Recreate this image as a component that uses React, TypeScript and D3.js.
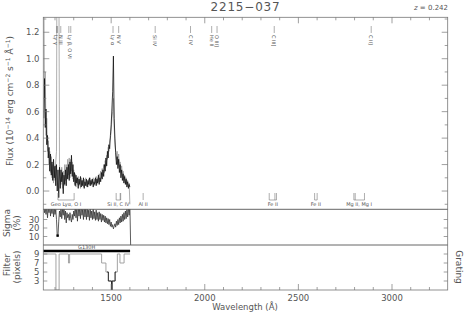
import React from 'react';
import * as d3 from 'd3';

// ---------- data ----------
const TITLE = '2215\u2212037';
const REDSHIFT = 0.242;
const WAVE_START = 1140;
const WAVE_STEP = 4;

const FLUX = [
  0.55, 0.85, 0.48, 0.62, 0.35, 0.42, 0.25, 0.33, 0.15, 0.28,
  0.12, 0.22, 0.08, 0.24, 0.1, 0.19, 0.04, 0.2, 0.0, 0.16,
  -0.05, 0.18, 0.02, 0.16, 0.07, 0.14, -0.02, 0.12, 0.05, 0.16,
  0.04, 0.18, 0.09, 0.2, 0.08, 0.22, 0.13, 0.27, 0.11, 0.2,
  0.07, 0.14, 0.04, 0.12, 0.06, 0.1, 0.02, 0.09, 0.05, 0.11,
  0.03, 0.08, 0.04, 0.1, 0.02, 0.07, 0.04, 0.09, 0.03, 0.08,
  0.05, 0.1, 0.04, 0.08, 0.05, 0.09, 0.03, 0.07, 0.05, 0.1,
  0.04, 0.09, 0.06, 0.12, 0.05, 0.1, 0.07, 0.14, 0.09, 0.16,
  0.11, 0.2, 0.15, 0.25, 0.19, 0.3, 0.25, 0.35, 0.32, 0.42,
  0.5, 0.62, 0.75, 1.02, 0.55, 0.4, 0.29, 0.2, 0.26, 0.17,
  0.24, 0.14, 0.2, 0.1, 0.16, 0.08, 0.13, 0.06, 0.11, 0.05,
  0.09, 0.03, 0.07, 0.02, 0.05, 0.03,
];

const FLUX_GRAY = [
  1.6, 0.7, 0.9, 0.42, 0.55, 0.3, 0.38, 0.2, 0.3, 0.14,
  0.26, 0.1, 0.2, 0.06, 0.18, 0.08, 0.22, 0.3, 3.0, 3.0,
  2.0, 0.2, 0.1, 0.05, 0.18, 0.02, 0.15, 0.04, 0.2, 0.08,
  0.2, 0.1, 0.24, 0.12, 0.25, 0.1, 0.24, 0.15, 0.22, 0.09,
  0.16, 0.05, 0.13, 0.03, 0.1, 0.05, 0.11, 0.04, 0.09, 0.02,
  0.1, 0.05, 0.08, 0.03, 0.09, 0.05, 0.1, 0.04, 0.07, 0.03,
  0.09, 0.05, 0.1, 0.04, 0.09, 0.06, 0.1, 0.04, 0.09, 0.06,
  0.11, 0.05, 0.1, 0.07, 0.13, 0.08, 0.15, 0.1, 0.17, 0.12,
  0.2, 0.14, 0.23, 0.18, 0.27, 0.24, 0.33, 0.3, 0.38, 0.4,
  0.45, 0.55, 0.6, 0.7, 0.48, 0.35, 0.3, 0.24, 0.3, 0.2,
  0.28, 0.18, 0.22, 0.14, 0.19, 0.11, 0.15, 0.08, 0.12, 0.06,
  0.1, 0.05, 0.08, 0.03, 0.06, -0.1,
];

const SIGMA = [
  45, 38, 44, 36, 46, 32, 44, 38, 48, 34,
  45, 37, 50, 33, 44, 36, 42, 30, 11, 11,
  28, 40, 33, 45, 31, 42, 35, 48, 30, 40,
  26, 38, 32, 36, 29, 38, 31, 27, 36, 30,
  40, 34, 46, 32, 42, 28, 46, 34, 44, 31,
  48, 35, 42, 30, 46, 33, 44, 30, 45, 33,
  41, 29, 43, 32, 40, 30, 44, 31, 39, 29,
  41, 30, 38, 28, 39, 30, 37, 27, 36, 29,
  35, 27, 34, 26, 32, 25, 31, 24, 30, 22,
  27, 21, 24, 19, 22, 25, 21, 28, 23, 30,
  24, 32, 26, 34, 27, 36, 28, 38, 30, 40,
  31, 42, 33, 44, 35, 46, 0,
];
const SIGMA_MARK_WAVE = 1214;
const SIGMA_MARK_VALUE = 11;

const FILTER_WAVE = [1140, 1205, 1222, 1272, 1278, 1449, 1472, 1485, 1502, 1505, 1521, 1533, 1547, 1569, 1601];
const FILTER_VAL = [9, 1, 9, 7, 9, 7, 5, 3, 1, 3, 5, 9, 7, 9, 9];
const FILTER_DARK_WAVE = [1478, 1485, 1502, 1505, 1521, 1527];
const FILTER_DARK_VAL = [5, 3, 1, 3, 5, 5];

const GRATING_NAME = 'G130H';
const GRATING_START = 1137;
const GRATING_END = 1601;

const EM_LABELS = ['Ly \u03b3', 'N III', 'Ly \u03b2, O VI', 'Ly \u03b1', 'N V', 'Si IV', 'C IV', 'He II', 'O III]', 'C III]', 'C II]'];
const EM_REST = [972.5, 991, 1030, 1215.7, 1240, 1397, 1549, 1640, 1663, 1909, 2326];
const EM_TICKS_REST = [972.5, 977, 991, 1025.7, 1034, 1215.7, 1240, 1397, 1549, 1640, 1663, 1909, 2326];

const ISM_LABELS = ['Geo Ly\u03b1, O I', 'Si II, C IV', 'Al II', 'Fe II', 'Fe II', 'Mg II, Mg I'];
const ISM_WAVES = [
  [1215.7, 1302.2],
  [1526.7, 1548.2, 1550.8],
  [1670.8],
  [2344.2, 2374.5, 2382.8],
  [2586.7, 2600.2],
  [2796.4, 2803.5, 2853.0],
];

const X_MAJOR = [1500, 2000, 2500, 3000];
const X_MINOR = [1200, 1300, 1400, 1600, 1700, 1800, 1900, 2100, 2200, 2300, 2400, 2600, 2700, 2800, 2900, 3100, 3200];
const FLUX_TICKS = [0.0, 0.2, 0.4, 0.6, 0.8, 1.0, 1.2];
const FLUX_MINOR = [-0.1, 0.1, 0.3, 0.5, 0.7, 0.9, 1.1, 1.3];
const SIGMA_TICKS = [10, 20, 30];
const FILTER_TICKS = [3, 5, 7, 9];

// ---------- layout ----------
const W = 468;
const H = 318;
const L = 43.3;
const R = 447.7;
const MAIN_TOP = 17.3;
const MAIN_BOT = 209.3;
const SIG_BOT = 245;
const FIL_BOT = 290;
const FONT = "'DejaVu Sans', 'Liberation Sans', sans-serif";
const TXT = '#555';
const AX = '#777';

export default function App() {
  const x = d3.scaleLinear().domain([1137.5, 3297.5]).range([L, R]);
  const yMain = d3.scaleLinear().domain([-0.138, 1.313]).range([MAIN_BOT, MAIN_TOP]);
  const ySig = d3.scaleLinear().domain([0, 42]).range([SIG_BOT, MAIN_BOT]);
  const yFil = d3.scaleLinear().domain([1, 11]).range([FIL_BOT, SIG_BOT]);

  const waveAt = (i: number) => WAVE_START + WAVE_STEP * i;
  const lineMain = d3.line<number>().x((_, i) => x(waveAt(i))).y((d) => yMain(d));
  const lineSig = d3.line<number>().x((_, i) => x(waveAt(i))).y((d) => ySig(d));
  const filterPts = FILTER_WAVE.map((w, i) => [w, FILTER_VAL[i]] as [number, number]);
  const filterDark = FILTER_DARK_WAVE.map((w, i) => [w, FILTER_DARK_VAL[i]] as [number, number]);
  const lineFil = d3.line<[number, number]>().x((d) => x(d[0])).y((d) => yFil(d[1])).curve(d3.curveStepAfter);

  const z1 = 1 + REDSHIFT;

  return (
    <svg width={W} height={H} style={{ position: 'absolute', left: 0, top: 0, background: '#fff' }} fontFamily={FONT}>
      <defs>
        <clipPath id="cMain"><rect x={L} y={MAIN_TOP} width={R - L} height={MAIN_BOT - MAIN_TOP} /></clipPath>
        <clipPath id="cSig"><rect x={L} y={MAIN_BOT} width={R - L} height={SIG_BOT - MAIN_BOT} /></clipPath>
        <clipPath id="cFil"><rect x={L} y={SIG_BOT} width={R - L} height={FIL_BOT - SIG_BOT} /></clipPath>
      </defs>
      <rect width={W} height={H} fill="#fff" />

      {/* title */}
      <text x={245.5} y={10.5} textAnchor="middle" fontSize={12} fill={TXT} letterSpacing={0.8}>{TITLE}</text>
      <text x={448} y={10} textAnchor="end" fontSize={7} fill={TXT}>
        <tspan fontStyle="italic">z</tspan> = {REDSHIFT.toFixed(3)}
      </text>

      {/* spectra */}
      <g clipPath="url(#cMain)">
        <path d={lineMain(FLUX_GRAY) || ''} fill="none" stroke="#9a9a9a" strokeWidth={0.8} />
        <path d={lineMain(FLUX) || ''} fill="none" stroke="#111" strokeWidth={0.8} />
      </g>
      <g clipPath="url(#cSig)">
        <path d={lineSig(SIGMA) || ''} fill="none" stroke="#333" strokeWidth={0.8} />
        <rect x={x(SIGMA_MARK_WAVE) - 1.2} y={ySig(SIGMA_MARK_VALUE) - 1.2} width={2.4} height={2.4} fill="#000" />
      </g>
      <g clipPath="url(#cFil)">
        <path d={lineFil(filterPts) || ''} fill="none" stroke="#999" strokeWidth={0.9} />
        <path d={lineFil(filterDark) || ''} fill="none" stroke="#222" strokeWidth={0.9} />
      </g>

      {/* grating bar */}
      <line x1={x(GRATING_START)} x2={x(GRATING_END)} y1={251} y2={251} stroke="#000" strokeWidth={2.6} />
      <text x={(x(GRATING_START) + x(GRATING_END)) / 2} y={248.6} textAnchor="middle" fontSize={5} fill={TXT}>{GRATING_NAME}</text>

      {/* emission line ids */}
      {EM_TICKS_REST.map((r, i) => (
        <line key={'et' + i} x1={x(r * z1)} x2={x(r * z1)} y1={26} y2={33} stroke="#777" strokeWidth={0.6} />
      ))}
      {EM_LABELS.map((t, i) => (
        <text key={'el' + i} transform={`translate(${x(EM_REST[i] * z1)},35) rotate(90)`} fontSize={5} fill={TXT} dominantBaseline="central">{t}</text>
      ))}

      {/* ISM absorption markers */}
      {ISM_WAVES.map((ws, gi) => {
        const xs = ws.map((w) => x(w));
        const x0 = d3.min(xs) as number;
        const x1 = d3.max(xs) as number;
        return (
          <g key={'ism' + gi}>
            {xs.map((xx, k) => (
              <line key={k} x1={xx} x2={xx} y1={193} y2={200} stroke="#777" strokeWidth={0.6} />
            ))}
            {ws.length > 1 && <line x1={x0} x2={x1} y1={200} y2={200} stroke="#777" strokeWidth={0.6} />}
            <text x={(x0 + x1) / 2} y={206} textAnchor="middle" fontSize={5} fill={TXT}>{ISM_LABELS[gi]}</text>
          </g>
        );
      })}

      {/* frames */}
      <rect x={L} y={MAIN_TOP} width={R - L} height={FIL_BOT - MAIN_TOP} fill="none" stroke={AX} strokeWidth={0.8} />
      <line x1={L} x2={R} y1={MAIN_BOT} y2={MAIN_BOT} stroke="#555" strokeWidth={0.9} />
      <line x1={L} x2={R} y1={SIG_BOT} y2={SIG_BOT} stroke="#555" strokeWidth={0.9} />

      {/* x ticks */}
      {X_MAJOR.map((v) => (
        <g key={'xm' + v}>
          <line x1={x(v)} x2={x(v)} y1={MAIN_TOP} y2={MAIN_TOP + 6} stroke={AX} strokeWidth={0.7} />
          <line x1={x(v)} x2={x(v)} y1={FIL_BOT} y2={FIL_BOT - 6} stroke={AX} strokeWidth={0.7} />
          <text x={x(v)} y={300.5} textAnchor="middle" fontSize={8.5} fill={TXT}>{v}</text>
        </g>
      ))}
      {X_MINOR.map((v) => (
        <g key={'xn' + v}>
          <line x1={x(v)} x2={x(v)} y1={MAIN_TOP} y2={MAIN_TOP + 3} stroke={AX} strokeWidth={0.7} />
          <line x1={x(v)} x2={x(v)} y1={FIL_BOT} y2={FIL_BOT - 3} stroke={AX} strokeWidth={0.7} />
        </g>
      ))}

      {/* flux y ticks */}
      {FLUX_TICKS.map((v) => (
        <g key={'fy' + v}>
          <line x1={L} x2={L + 6} y1={yMain(v)} y2={yMain(v)} stroke={AX} strokeWidth={0.7} />
          <line x1={R} x2={R - 6} y1={yMain(v)} y2={yMain(v)} stroke={AX} strokeWidth={0.7} />
          <text x={39.5} y={yMain(v)} textAnchor="end" dominantBaseline="central" fontSize={8.5} fill={TXT}>{v.toFixed(1)}</text>
        </g>
      ))}
      {FLUX_MINOR.filter((v) => yMain(v) > MAIN_TOP && yMain(v) < MAIN_BOT).map((v) => (
        <g key={'fn' + v}>
          <line x1={L} x2={L + 3} y1={yMain(v)} y2={yMain(v)} stroke={AX} strokeWidth={0.7} />
          <line x1={R} x2={R - 3} y1={yMain(v)} y2={yMain(v)} stroke={AX} strokeWidth={0.7} />
        </g>
      ))}

      {/* sigma ticks */}
      {SIGMA_TICKS.map((v) => (
        <g key={'sy' + v}>
          <line x1={L} x2={L + 4} y1={ySig(v)} y2={ySig(v)} stroke={AX} strokeWidth={0.7} />
          <line x1={R} x2={R - 4} y1={ySig(v)} y2={ySig(v)} stroke={AX} strokeWidth={0.7} />
          <text x={39.5} y={ySig(v)} textAnchor="end" dominantBaseline="central" fontSize={8.5} fill={TXT}>{v}</text>
        </g>
      ))}

      {/* filter ticks */}
      {FILTER_TICKS.map((v) => (
        <g key={'fl' + v}>
          <line x1={L} x2={L + 4} y1={yFil(v)} y2={yFil(v)} stroke={AX} strokeWidth={0.7} />
          <line x1={R} x2={R - 4} y1={yFil(v)} y2={yFil(v)} stroke={AX} strokeWidth={0.7} />
          <text x={39.5} y={yFil(v)} textAnchor="end" dominantBaseline="central" fontSize={8.5} fill={TXT}>{v}</text>
        </g>
      ))}

      {/* axis titles */}
      <text transform="translate(10,101) rotate(-90)" textAnchor="middle" dominantBaseline="central" fontSize={9} fill={TXT}>
        Flux (10<tspan dy={-3} fontSize={6}>{'\u221214'}</tspan><tspan dy={3}> erg cm</tspan><tspan dy={-3} fontSize={6}>{'\u22122'}</tspan><tspan dy={3}> s</tspan><tspan dy={-3} fontSize={6}>{'\u22121'}</tspan><tspan dy={3}> {'\u00c5'}</tspan><tspan dy={-3} fontSize={6}>{'\u22121'}</tspan><tspan dy={3}>)</tspan>
      </text>
      <text transform="translate(7,223) rotate(-90)" textAnchor="middle" dominantBaseline="central" fontSize={9} fill={TXT}>Sigma</text>
      <text transform="translate(17,223) rotate(-90)" textAnchor="middle" dominantBaseline="central" fontSize={9} fill={TXT}>(%)</text>
      <text transform="translate(7,265) rotate(-90)" textAnchor="middle" dominantBaseline="central" fontSize={9} fill={TXT}>Filter</text>
      <text transform="translate(17,267) rotate(-90)" textAnchor="middle" dominantBaseline="central" fontSize={9} fill={TXT}>(pixels)</text>
      <text transform="translate(458.5,267) rotate(90)" textAnchor="middle" dominantBaseline="central" fontSize={9} fill={TXT}>Grating</text>
      <text x={245} y={310} textAnchor="middle" fontSize={8.5} fill={TXT}>Wavelength ({'\u00c5'})</text>
    </svg>
  );
}
